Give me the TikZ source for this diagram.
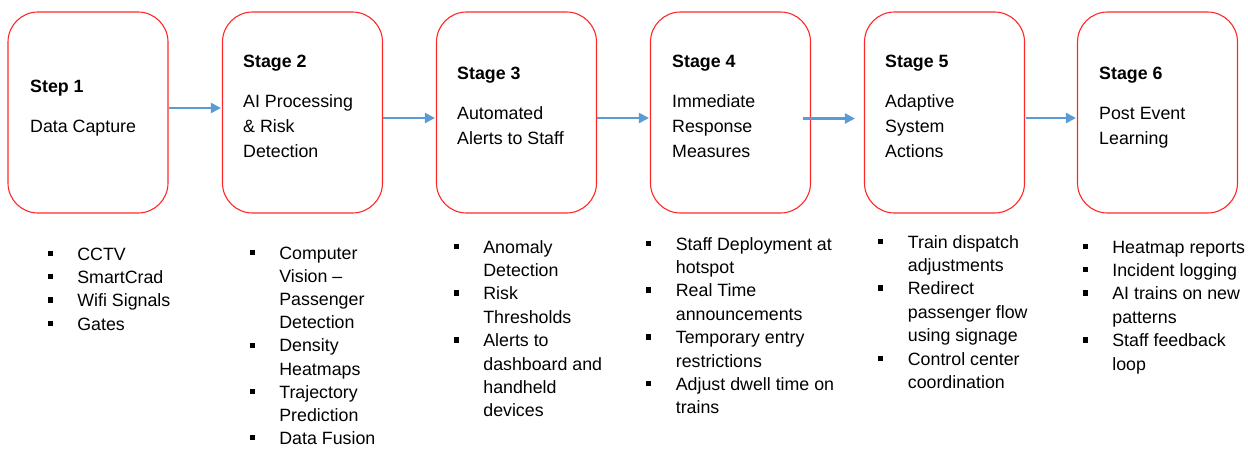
\documentclass[tikz,border=0pt]{standalone}
\usepackage{fontspec}
\setmainfont{Liberation Sans}
\usetikzlibrary{arrows.meta}

\definecolor{boxred}{RGB}{255,40,40}
\definecolor{flowblue}{RGB}{91,155,213}

% square bullet followed by the indent of the item text
\newcommand{\sqbul}{\makebox[29.8pt][l]{\rule[4.1pt]{5.3pt}{5.3pt}}}
\newenvironment{itemcol}{\begin{tabular}[t]{@{}l@{}l@{}}}{\end{tabular}}
\newenvironment{linecol}{\begin{tabular}[t]{@{}l@{}}}{\end{tabular}}

\tikzset{
  stagebox/.style={draw=boxred, line width=1.1pt, rounded corners=30pt,
    minimum width=160pt, minimum height=201pt, inner sep=0pt},
  boxtitle/.style={anchor=base west, inner sep=0pt,
    font=\fontsize{17.8}{25}\selectfont\bfseries},
  boxtext/.style={anchor=base west, inner sep=0pt,
    font=\fontsize{17.8}{25}\selectfont},
  bullets/.style={anchor=base west, inner sep=0pt,
    font=\fontsize{17.8}{23.4}\selectfont},
  tightbullets/.style={bullets, font=\fontsize{17.8}{23.1}\selectfont},
  flow/.style={draw=flowblue, line width=2.2pt,
    -{Triangle[length=10pt,width=10pt]}}
}

\begin{document}
\begin{tikzpicture}[x=1pt,y=-1pt]
\useasboundingbox (0,0) rectangle (1248,448);

% stage boxes
\node[stagebox] (s1) at (88,112.5)    {};
\node[stagebox] (s2) at (302.5,112.5) {};
\node[stagebox] (s3) at (516.5,112.5) {};
\node[stagebox] (s4) at (730.5,112.5) {};
\node[stagebox] (s5) at (944.5,112.5) {};
\node[stagebox] (s6) at (1157.5,112.5) {};

% box titles and descriptions
\node[boxtitle] (h1) at (30,92)  {Step 1};
\node[boxtext]  (d1) at (30,132) {\begin{linecol}Data Capture\end{linecol}};

\node[boxtitle] (h2) at (243,67)  {Stage 2};
\node[boxtext]  (d2) at (243,107) {\begin{linecol}AI Processing\\ \& Risk\\ Detection\end{linecol}};

\node[boxtitle] (h3) at (457,79)  {Stage 3};
\node[boxtext]  (d3) at (457,119) {\begin{linecol}Automated\\ Alerts to Staff\end{linecol}};

\node[boxtitle] (h4) at (672,67)  {Stage 4};
\node[boxtext]  (d4) at (672,107) {\begin{linecol}Immediate\\ Response\\ Measures\end{linecol}};

\node[boxtitle] (h5) at (885,67)  {Stage 5};
\node[boxtext]  (d5) at (885,107) {\begin{linecol}Adaptive\\ System\\ Actions\end{linecol}};

\node[boxtitle] (h6) at (1099,79)  {Stage 6};
\node[boxtext]  (d6) at (1099,119) {\begin{linecol}Post Event\\ Learning\end{linecol}};

% flow arrows
\draw[flow] ([yshift=4.5pt]s1.east) -- ([yshift=4.5pt,xshift=-1pt]s2.west);
\draw[flow] ([yshift=-5.5pt]s2.east) -- ([yshift=-5.5pt,xshift=-1pt]s3.west);
\draw[flow] ([yshift=-5.5pt]s3.east) -- ([yshift=-5.5pt,xshift=-1pt]s4.west);
\draw[flow] ([yshift=-6pt,xshift=-8pt]s4.east) -- ([yshift=-6pt,xshift=-9pt]s5.west);
\draw[flow] ([yshift=-5.5pt,xshift=1pt]s5.east) -- ([yshift=-5.5pt,xshift=-1pt]s6.west);

% bullet lists under the boxes
\node[bullets] (l1) at (47.35,260) {\begin{itemcol}
\sqbul & CCTV\\
\sqbul & SmartCrad\\
\sqbul & Wifi Signals\\
\sqbul & Gates
\end{itemcol}};

\node[tightbullets] (l2) at (249.35,259.5) {\begin{itemcol}
\sqbul & Computer\\
       & Vision \textendash\\
       & Passenger\\
       & Detection\\
\sqbul & Density\\
       & Heatmaps\\
\sqbul & Trajectory\\
       & Prediction\\
\sqbul & Data Fusion
\end{itemcol}};

\node[bullets] (l3) at (453.35,253) {\begin{itemcol}
\sqbul & Anomaly\\
       & Detection\\
\sqbul & Risk\\
       & Thresholds\\
\sqbul & Alerts to\\
       & dashboard and\\
       & handheld\\
       & devices
\end{itemcol}};

\node[bullets] (l4) at (645.85,250) {\begin{itemcol}
\sqbul & Staff Deployment at\\
       & hotspot\\
\sqbul & Real Time\\
       & announcements\\
\sqbul & Temporary entry\\
       & restrictions\\
\sqbul & Adjust dwell time on\\
       & trains
\end{itemcol}};

\node[bullets] (l5) at (877.85,248) {\begin{itemcol}
\sqbul & Train dispatch\\
       & adjustments\\
\sqbul & Redirect\\
       & passenger flow\\
       & using signage\\
\sqbul & Control center\\
       & coordination
\end{itemcol}};

\node[bullets] (l6) at (1082.35,253) {\begin{itemcol}
\sqbul & Heatmap reports\\
\sqbul & Incident logging\\
\sqbul & AI trains on new\\
       & patterns\\
\sqbul & Staff feedback\\
       & loop
\end{itemcol}};
\end{tikzpicture}
\end{document}
